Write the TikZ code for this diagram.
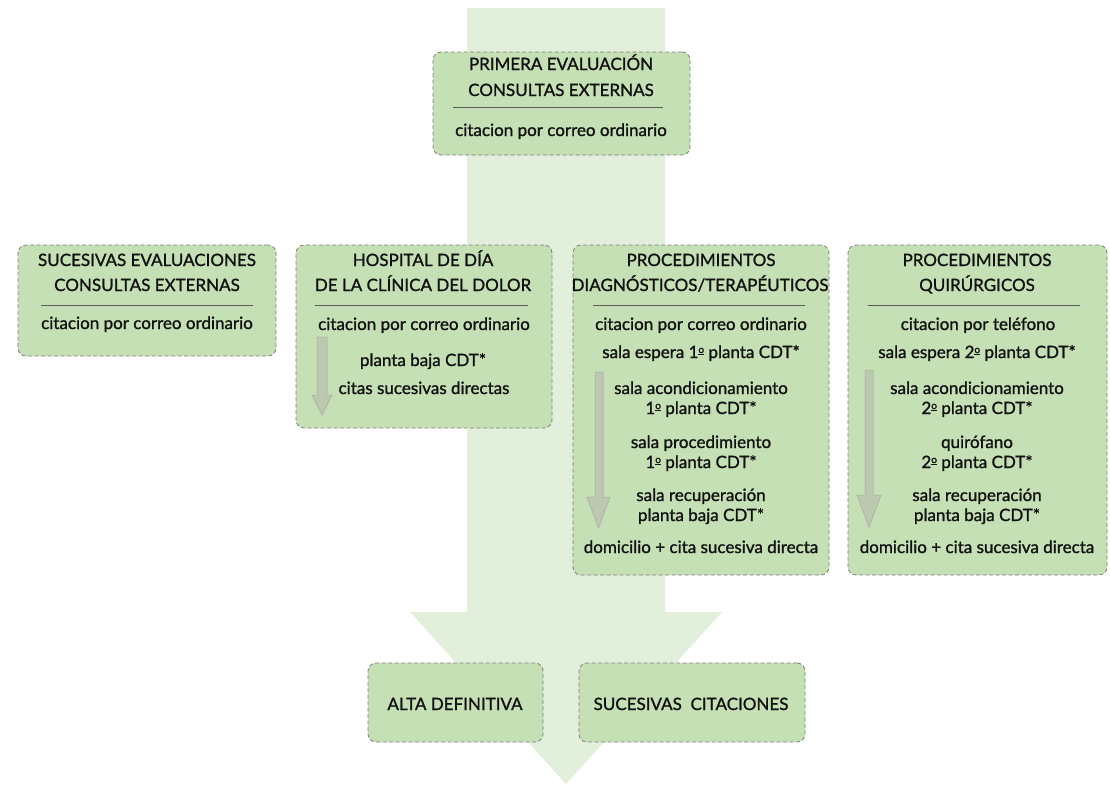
\documentclass[tikz,border=0pt]{standalone}
\usepackage{fontspec}
\setmainfont{Lato}[FakeBold=1.2]
\newcommand{\myord}{\raisebox{5pt}{\fontsize{10}{10}\selectfont\underline{o}}}
\definecolor{boxgreen}{HTML}{C5E0B4}
\definecolor{arrowgreen}{HTML}{E2EFDA}
\definecolor{dashgray}{HTML}{7F7F7F}
\definecolor{sepgray}{HTML}{595959}
\definecolor{smallfill}{HTML}{BCC8B0}
\definecolor{smalledge}{HTML}{A6A6A6}
\definecolor{txtcol}{HTML}{111111}
\begin{document}
\begin{tikzpicture}[x=1pt,y=-1pt,
  box/.style={draw=dashgray, dash pattern=on 4pt off 2.5pt, fill=boxgreen, rounded corners=8pt,
    line width=0.8pt, inner sep=0pt, outer sep=0pt},
  txt/.style={font=\fontsize{17}{20}\selectfont, text=txtcol, inner sep=0pt, anchor=base},
  sepline/.style={draw=sepgray, line width=0.5pt},
  bigarrow/.style={fill=arrowgreen, draw=none},
  smallarrow/.style={fill=smallfill, draw=smalledge, line width=0.5pt}
]
\useasboundingbox (0,0) rectangle (1110,785);
% background arrow
\fill[bigarrow] (467,8) -- (665,8) -- (665,612) -- (722,612) -- (566,784) -- (410,612) -- (467,612) -- cycle;

% boxes
\node[box, minimum width=257pt, minimum height=103pt] (b1) at (561.5,103.5) {};
\node[box, minimum width=258pt, minimum height=111pt] (b2) at (147,300.5) {};
\node[box, minimum width=256pt, minimum height=183pt] (b3) at (424,336.5) {};
\node[box, minimum width=256pt, minimum height=330pt] (b4) at (701,410) {};
\node[box, minimum width=259pt, minimum height=330pt] (b5) at (977.5,410) {};
\node[box, minimum width=175pt, minimum height=79pt] (b6) at (455.5,702.5) {};
\node[box, minimum width=226pt, minimum height=79pt] (b7) at (692,702.5) {};

% small arrows
\draw[smallarrow] (317,337) -- (327,337) -- (327,395) -- (332,395) -- (322,415) -- (312,395) -- (317,395) -- cycle;
\draw[smallarrow] (595,372) -- (603,372) -- (603,497) -- (610,497) -- (598.5,528) -- (587,497) -- (595,497) -- cycle;
\draw[smallarrow] (865,370) -- (873,370) -- (873,495) -- (881,495) -- (869,527) -- (857,495) -- (865,495) -- cycle;

% top box
\node[txt] (t1a) at (561,70) {PRIMERA EVALUACIÓN};
\node[txt] (t1b) at (561,96) {CONSULTAS EXTERNAS};
\draw[sepline] (453,107) -- (663,107);
\node[txt] (t1c) at (561,136) {citacion por correo ordinario};

% left box
\node[txt] (t2a) at (147,266) {SUCESIVAS EVALUACIONES};
\node[txt] (t2b) at (147,291) {CONSULTAS EXTERNAS};
\draw[sepline] (41,305) -- (253,305);
\node[txt] (t2c) at (147,329) {citacion por correo ordinario};

% hospital box
\node[txt] (t3a) at (423,266) {HOSPITAL DE DÍA};
\node[txt] (t3b) at (423,291) {DE LA CLÍNICA DEL DOLOR};
\draw[sepline] (315,305) -- (528,305);
\node[txt] (t3c) at (424,330) {citacion por correo ordinario};
\node[txt] (t3d) at (423,366) {planta baja CDT*};
\node[txt] (t3e) at (424,394) {citas sucesivas directas};

% diagnostic box
\node[txt] (t4a) at (701,266) {PROCEDIMIENTOS};
\node[txt] (t4b) at (700,291) {DIAGNÓSTICOS/TERAPÉUTICOS};
\draw[sepline] (593,305) -- (805,305);
\node[txt] (t4c) at (701,330) {citacion por correo ordinario};
\node[txt] (t4d) at (701,358) {sala espera 1\myord{} planta CDT*};
\node[txt] (t4e) at (701,394) {sala acondicionamiento};
\node[txt] (t4f) at (701,414) {1\myord{} planta CDT*};
\node[txt] (t4g) at (701,448) {sala procedimiento};
\node[txt] (t4h) at (701,468) {1\myord{} planta CDT*};
\node[txt] (t4i) at (701,501) {sala recuperación};
\node[txt] (t4j) at (701,521) {planta baja CDT*};
\node[txt] (t4k) at (701,553) {domicilio + cita sucesiva directa};

% surgical box
\node[txt] (t5a) at (977,266) {PROCEDIMIENTOS};
\node[txt] (t5b) at (977,291) {QUIRÚRGICOS};
\draw[sepline] (868,305) -- (1080,305);
\node[txt] (t5c) at (978,330) {citacion por teléfono};
\node[txt] (t5d) at (977,358) {sala espera 2\myord{} planta CDT*};
\node[txt] (t5e) at (977,394) {sala acondicionamiento};
\node[txt] (t5f) at (977,414) {2\myord{} planta CDT*};
\node[txt] (t5g) at (977,448) {quirófano};
\node[txt] (t5h) at (977,468) {2\myord{} planta CDT*};
\node[txt] (t5i) at (977,501) {sala recuperación};
\node[txt] (t5j) at (977,521) {planta baja CDT*};
\node[txt] (t5k) at (977,553) {domicilio + cita sucesiva directa};

% bottom boxes
\node[txt] (t6) at (455,710) {ALTA DEFINITIVA};
\node[txt] (t7) at (691,710) {SUCESIVAS\ \ CITACIONES};
\end{tikzpicture}
\end{document}
